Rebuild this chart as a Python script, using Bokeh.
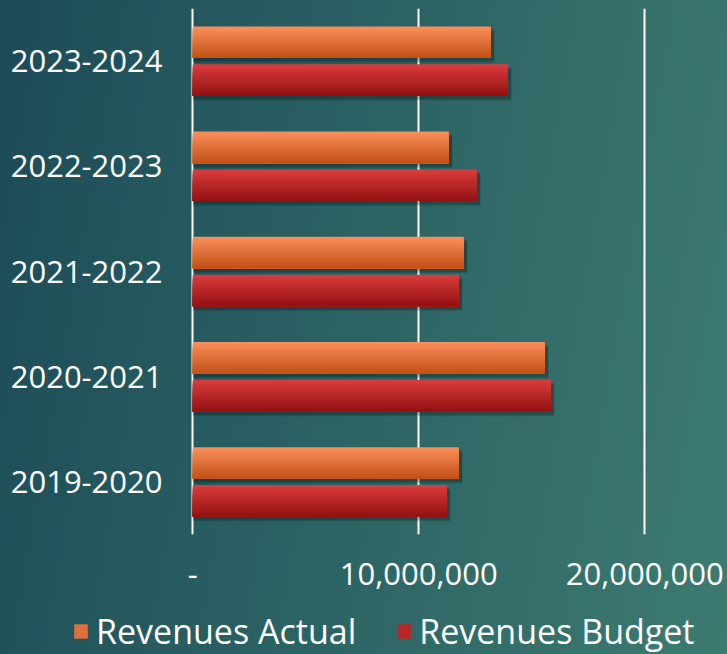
from bokeh.plotting import figure
from bokeh.models import ColumnDataSource, FixedTicker, Legend, LegendItem
from bokeh.transform import dodge
from bokeh.embed import file_html
from bokeh.resources import INLINE

# ---- data ----
years = ["2019-2020", "2020-2021", "2021-2022", "2022-2023", "2023-2024"]
revenues_actual = [11_770_000, 15_580_000, 11_990_000, 11_330_000, 13_190_000]
revenues_budget = [11_240_000, 15_840_000, 11_770_000, 12_570_000, 13_940_000]
x_ticks = [0, 10_000_000, 20_000_000]
x_tick_labels = ["-", "10,000,000", "20,000,000"]
series_names = ["Revenues Actual", "Revenues Budget"]

# ---- styling ----
FONT = "Open Sans"
orange_top, orange_bot = (250, 142, 90), (196, 82, 24)
red_top, red_bot = (218, 60, 60), (148, 18, 18)
BAR_H = 0.30
OFFSET = 0.18
N_STRIPES = 16
GRADIENT = "linear-gradient(100deg, #1d4b58 0%, #2a6163 45%, #3d7b71 100%)"


def lerp(a, b, t):
    return "#%02x%02x%02x" % tuple(int(round(a[i] + (b[i] - a[i]) * t)) for i in range(3))


src = ColumnDataSource(dict(
    year=years,
    actual=revenues_actual,
    budget=revenues_budget,
    actual_sh=[v + 150_000 for v in revenues_actual],
    budget_sh=[v + 150_000 for v in revenues_budget],
))

p = figure(width=727, height=598, y_range=years, x_range=(-100_000, 23_660_000),
           output_backend="svg", toolbar_location=None,
           min_border_left=190, min_border_right=0, min_border_top=8,
           min_border_bottom=64)
p.background_fill_alpha = 0
p.border_fill_alpha = 0
p.outline_line_color = None

# soft drop shadows
for col, off in (("actual_sh", OFFSET), ("budget_sh", -OFFSET)):
    for dy in (-0.045, -0.03):
        p.hbar(y=dodge("year", off + dy, range=p.y_range), left=0, right=col,
               height=BAR_H, source=src, fill_color="black", fill_alpha=0.16,
               line_color=None)

# bars with vertical colour gradient (layered from top down, no seams)
sh = BAR_H / N_STRIPES
for col, off, top, bot in (("actual", OFFSET, orange_top, orange_bot),
                           ("budget", -OFFSET, red_top, red_bot)):
    for i in range(N_STRIPES):
        t = i / (N_STRIPES - 1)
        h = BAR_H - i * sh
        yc = off - BAR_H / 2 + h / 2
        p.hbar(y=dodge("year", yc, range=p.y_range), left=0, right=col,
               height=h, source=src, fill_color=lerp(top, bot, t), line_color=None)

# axes
p.xaxis.ticker = FixedTicker(ticks=x_ticks)
p.xaxis.major_label_overrides = {t: l for t, l in zip(x_ticks, x_tick_labels)}
p.xaxis.axis_line_color = None
p.xaxis.major_tick_line_color = None
p.xaxis.minor_tick_line_color = None
p.xaxis.major_label_text_color = "white"
p.xaxis.major_label_text_font = FONT
p.xaxis.major_label_text_font_size = "31px"
p.xaxis.major_label_standoff = 22

p.yaxis.axis_line_color = None
p.yaxis.major_tick_line_color = None
p.yaxis.major_label_text_color = "white"
p.yaxis.major_label_text_font = FONT
p.yaxis.major_label_text_font_size = "31px"
p.yaxis.major_label_standoff = 22

p.ygrid.grid_line_color = None
p.xgrid.ticker = FixedTicker(ticks=x_ticks)
p.xgrid.grid_line_color = "white"
p.xgrid.grid_line_width = 2

# ---- legend in its own strip below (separate root, no frame alignment) ----
lg = figure(width=727, height=56, x_range=(0, 1), y_range=(0, 1),
            output_backend="svg", toolbar_location=None,
            min_border=0, min_border_left=0, min_border_right=0,
            min_border_top=0, min_border_bottom=0)
lg.axis.visible = False
lg.grid.visible = False
lg.outline_line_color = None
lg.background_fill_alpha = 0
lg.border_fill_alpha = 0
ra = lg.hbar(y=[50], left=[0], right=[0], height=1,
             fill_color=lerp(orange_top, orange_bot, 0.5), line_color=None)
rb = lg.hbar(y=[50], left=[0], right=[0], height=1,
             fill_color=lerp(red_top, red_bot, 0.5), line_color=None)
legend = Legend(items=[LegendItem(label=series_names[0], renderers=[ra]),
                       LegendItem(label=series_names[1], renderers=[rb])],
                orientation="horizontal", location=(72, 0),
                background_fill_alpha=0, border_line_color=None,
                label_text_color="white", label_text_font=FONT,
                label_text_font_size="34px", glyph_width=17, glyph_height=18,
                spacing=39, padding=0, margin=0, label_standoff=7)
lg.add_layout(legend, "center")

html = file_html([p, lg], INLINE)
html = html.replace("<head>", "<head><style>html,body{background:%s;min-height:100%%;}</style>" % GRADIENT, 1)
open("out.html", "w").write(html)
